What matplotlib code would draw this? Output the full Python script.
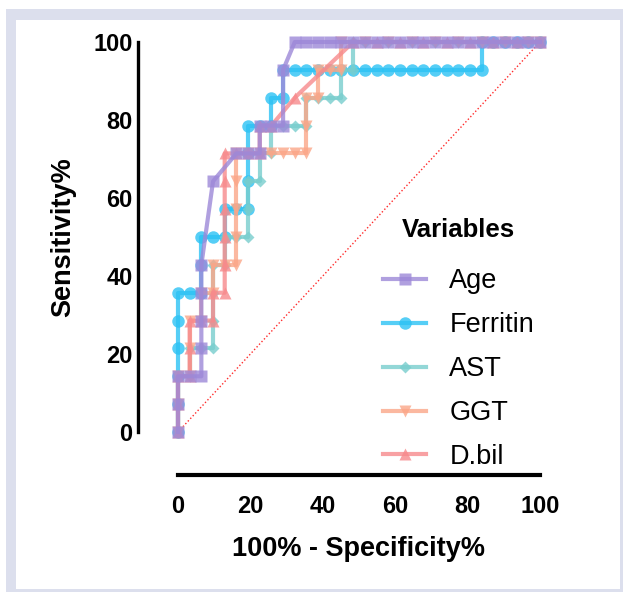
import matplotlib
matplotlib.use("Agg")
import matplotlib.pyplot as plt
from matplotlib.patches import Rectangle
import numpy as np

plt.rcParams['font.family'] = ['Liberation Sans', 'DejaVu Sans']

# ROC points: false positives out of 31 negatives,
# true positives out of 14 positives
n_neg = 31
n_pos = 14

age_fp = [0, 0, 0, 1, 2, 2, 2, 2, 2, 3, 5, 6, 7, 7, 8, 9, 9, 10, 11, 12, 13, 14, 15, 16, 17, 18, 19, 20, 21, 22, 23, 24, 25, 26, 27, 28, 29, 30, 31]
age_tp = [0, 1, 2, 2, 2, 3, 4, 5, 6, 9, 10, 10, 10, 11, 11, 11, 13, 14, 14, 14, 14, 14, 14, 14, 14, 14, 14, 14, 14, 14, 14, 14, 14, 14, 14, 14, 14, 14, 14]

ferritin_fp = [0, 0, 0, 0, 0, 0, 1, 2, 2, 2, 3, 4, 4, 5, 6, 6, 6, 6, 7, 8, 8, 9, 9, 10, 11, 12, 13, 14, 15, 16, 17, 18, 19, 20, 21, 22, 23, 24, 25, 26, 26, 27, 28, 29, 30, 31]
ferritin_tp = [0, 1, 2, 3, 4, 5, 5, 5, 6, 7, 7, 7, 8, 8, 8, 9, 10, 11, 11, 11, 12, 12, 13, 13, 13, 13, 13, 13, 13, 13, 13, 13, 13, 13, 13, 13, 13, 13, 13, 13, 14, 14, 14, 14, 14, 14]

ast_fp = [0, 0, 0, 1, 1, 2, 3, 3, 3, 3, 4, 4, 5, 6, 6, 6, 7, 7, 8, 8, 9, 10, 11, 11, 12, 13, 14, 14, 15, 15, 16, 18, 20, 22, 24, 26, 28, 30, 31]
ast_tp = [0, 1, 2, 2, 3, 3, 3, 4, 5, 6, 6, 7, 7, 7, 8, 9, 9, 10, 10, 11, 11, 11, 11, 12, 12, 12, 12, 13, 13, 14, 14, 14, 14, 14, 14, 14, 14, 14, 14]

ggt_fp = [0, 0, 0, 1, 1, 1, 2, 2, 3, 3, 4, 5, 5, 5, 5, 5, 6, 7, 8, 9, 10, 11, 11, 11, 12, 12, 13, 14, 14, 16, 18, 20, 22, 24, 26, 28, 30, 31]
ggt_tp = [0, 1, 2, 2, 3, 4, 4, 5, 5, 6, 6, 6, 7, 8, 9, 10, 10, 10, 10, 10, 10, 10, 11, 12, 12, 13, 13, 13, 14, 14, 14, 14, 14, 14, 14, 14, 14, 14]

dbil_fp = [0, 0, 0, 1, 1, 1, 2, 3, 3, 4, 4, 4, 4, 4, 4, 5, 6, 7, 7, 8, 10, 15, 17, 19, 21, 23, 25, 27, 29, 31]
dbil_tp = [0, 1, 2, 2, 3, 4, 4, 4, 5, 5, 6, 7, 8, 9, 10, 10, 10, 10, 11, 11, 12, 14, 14, 14, 14, 14, 14, 14, 14, 14]

names = ['Age', 'Ferritin', 'AST', 'GGT', 'D.bil']
colors = ['#9d88d8', '#2cc2f4', '#78cdcd', '#fba688', '#f78a8c']
markers = ['s', 'o', 'D', 'v', '^']
sizes = [9, 9, 6.5, 8.5, 8.5]
series = [(age_fp, age_tp), (ferritin_fp, ferritin_tp), (ast_fp, ast_tp),
          (ggt_fp, ggt_tp), (dbil_fp, dbil_tp)]

fig = plt.figure(figsize=(6.23, 5.92), dpi=100)
W, H = 623, 592
# lavender frame + white panel
fig.patches.append(Rectangle((6 / W, 0), 1, 1 - 9 / H, transform=fig.transFigure,
                             facecolor='#dcdfed', edgecolor='none', zorder=-10))
fig.patches.append(Rectangle((16 / W, 3 / H), (620 - 16) / W, (589 - 20) / H,
                             transform=fig.transFigure, facecolor='white',
                             edgecolor='none', zorder=-9))

ax = fig.add_axes([178 / W, 1 - 432 / H, (540 - 178) / W, (432 - 42) / H])
ax.patch.set_alpha(0)

ax.plot([0, 100], [0, 100], color='#ff2a2a', lw=1.0, ls=(0, (1, 1.6)), zorder=1)

order = [1, 2, 3, 4, 0]
handles = {}
for i in order:
    fp, tp = series[i]
    x = np.array(fp) / n_neg * 100
    y = np.array(tp) / n_pos * 100
    ln, = ax.plot(x, y, color=colors[i], lw=3, marker=markers[i], ms=sizes[i],
                  mec='none', alpha=0.8, clip_on=False, zorder=2 + order.index(i))
    handles[names[i]] = ln

ax.set_xlim(0, 100)
ax.set_ylim(0, 100)
ax.set_xticks([0, 20, 40, 60, 80, 100])
ax.set_yticks([0, 20, 40, 60, 80, 100])
ax.spines['top'].set_visible(False)
ax.spines['right'].set_visible(False)
# offsets in points (40 px and 43 px at 100 dpi)
ax.spines['left'].set_position(('outward', 28.8))
ax.spines['bottom'].set_position(('outward', 31))
ax.spines['left'].set_linewidth(2.4)
ax.spines['bottom'].set_linewidth(3.0)
ax.tick_params(axis='x', length=0, pad=14.5)
ax.tick_params(axis='y', length=0, pad=4)
for lab in ax.get_xticklabels() + ax.get_yticklabels():
    lab.set_fontweight('bold')
    lab.set_fontsize(17)
    lab.set_family(['Liberation Sans Narrow', 'Liberation Sans'])

ax.set_xlabel('100% - Specificity%', fontsize=19.5, fontweight='bold', labelpad=12.5)
ax.set_ylabel('Sensitivity%', fontsize=19.5, fontweight='bold', labelpad=12)

leg = ax.legend([handles[n] for n in names], names, title='Variables',
                loc='upper left', bbox_to_anchor=(383 / W, 1 - 218 / H),
                bbox_transform=fig.transFigure, frameon=False, fontsize=19.5,
                title_fontproperties={'weight': 'bold', 'size': 18.5},
                handlelength=1.6, handletextpad=0.85, labelspacing=0.66,
                borderpad=0, borderaxespad=0)
leg._legend_box.sep = 19

fig.savefig('out.png', dpi=100)
